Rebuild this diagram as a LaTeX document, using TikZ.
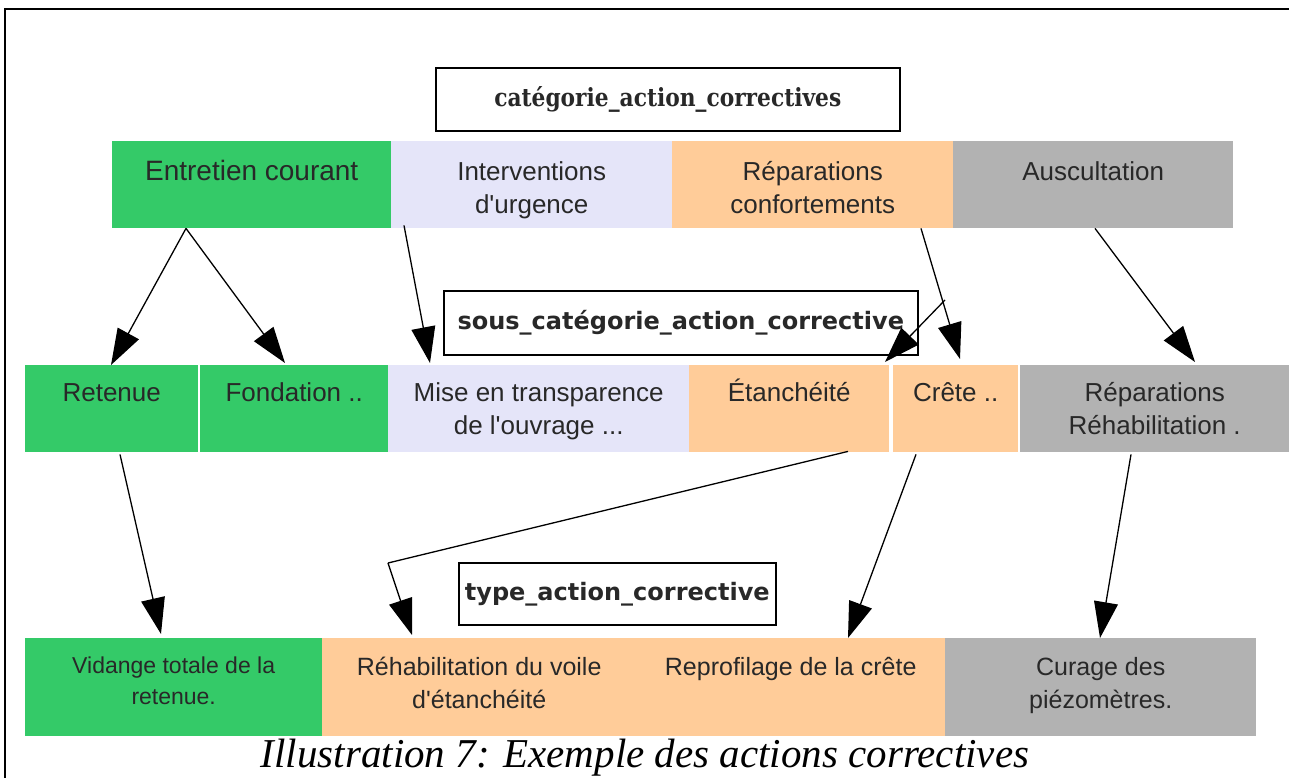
\documentclass[tikz,border=0pt]{standalone}
\usepackage{fontspec}
\setmainfont{Liberation Sans}
\newfontfamily\hdfont{DejaVu Serif}[FakeStretch=0.87]
\newfontfamily\subfont{DejaVu Sans}
\newfontfamily\capfont{Liberation Serif}
\usetikzlibrary{arrows.meta}
\definecolor{cgreen}{RGB}{52,202,104}
\definecolor{clav}{RGB}{229,229,249}
\definecolor{cpeach}{RGB}{255,204,153}
\definecolor{cgrey}{RGB}{178,178,178}
\definecolor{ctext}{RGB}{40,40,40}
\newcommand\myfirst{\rule{0pt}{30pt}}
\newcommand\apos{\textquotesingle}
\tikzset{
  cell/.style={draw=none, fill=#1, inner sep=0pt, anchor=north west},
  hdr/.style={draw=black, line width=1.6pt, fill=white, inner sep=0pt, anchor=north west},
  txt/.style={anchor=north, inner sep=0pt, align=center, text=ctext, font=\fontsize{26}{33}\selectfont},
  arr/.style={draw=black, line width=1.3pt, -{Triangle[length=36pt,width=24pt]}},
}
\begin{document}
\begin{tikzpicture}[x=1pt,y=-1pt]
\useasboundingbox (0,0) rectangle (1289,778);
% frame
\draw[line width=1.5pt] (5,778) -- (5,9) -- (1289,9);
% header boxes
\node[hdr, minimum width=464pt, minimum height=63pt] (hcat) at (435,67) {};
\node[font=\hdfont\bfseries\fontsize{25}{30}\selectfont, text=ctext] at (hcat.center) {catégorie\_action\_correctives};
\node[hdr, minimum width=474pt, minimum height=64pt] (hsous) at (443,290) {};
\node[font=\subfont\bfseries\fontsize{24}{28}\selectfont, text=ctext] at (hsous.center) {sous\_catégorie\_action\_corrective};
\node[hdr, minimum width=317pt, minimum height=62pt] (htype) at (458,562) {};
\node[font=\subfont\bfseries\fontsize{24}{28}\selectfont, text=ctext] at (htype.center) {type\_action\_corrective};
% row 1
\node[cell=cgreen, minimum width=279pt, minimum height=87pt] (ec) at (112,141) {};
\node[cell=clav,   minimum width=281pt, minimum height=87pt] (iu) at (391,141) {};
\node[cell=cpeach, minimum width=281pt, minimum height=87pt] (rc) at (672,141) {};
\node[cell=cgrey,  minimum width=280pt, minimum height=87pt] (au) at (953,141) {};
\node[txt, font=\fontsize{28}{34}\selectfont] at ([yshift=-9pt]ec.north) {\myfirst Entretien courant};
\node[txt] at ([yshift=-9pt]iu.north) {\myfirst Interventions\\d\apos urgence};
\node[txt] at ([yshift=-9pt]rc.north) {\myfirst Réparations\\confortements};
\node[txt] at ([yshift=-9pt]au.north) {\myfirst Auscultation};
% row 2
\node[cell=cgreen, minimum width=173pt, minimum height=87pt] (re) at (25,365) {};
\node[cell=cgreen, minimum width=188pt, minimum height=87pt] (fo) at (200,365) {};
\node[cell=clav,   minimum width=301pt, minimum height=87pt] (mt) at (388,365) {};
\node[cell=cpeach, minimum width=200pt, minimum height=87pt] (et) at (689,365) {};
\node[cell=cpeach, minimum width=125pt, minimum height=87pt] (cr) at (893,365) {};
\node[cell=cgrey,  minimum width=269pt, minimum height=87pt] (rr) at (1020,365) {};
\node[txt] at ([yshift=-6pt]re.north) {\myfirst Retenue};
\node[txt] at ([yshift=-6pt]fo.north) {\myfirst Fondation ..};
\node[txt] at ([yshift=-6pt]mt.north) {\myfirst Mise en transparence\\de l\apos ouvrage ...};
\node[txt] at ([yshift=-6pt]et.north) {\myfirst Étanchéité};
\node[txt] at ([yshift=-6pt]cr.north) {\myfirst Crête ..};
\node[txt] at ([yshift=-6pt]rr.north) {\myfirst Réparations\\Réhabilitation .};
% row 3
\node[cell=cgreen, minimum width=297pt, minimum height=98pt] (vt) at (25,638) {};
\node[cell=cpeach, minimum width=314pt, minimum height=98pt] (rv) at (322,638) {};
\node[cell=cpeach, minimum width=309pt, minimum height=98pt] (rp) at (636,638) {};
\node[cell=cgrey,  minimum width=311pt, minimum height=98pt] (cp) at (945,638) {};
\node[txt, font=\fontsize{23}{31}\selectfont] at ([yshift=-5pt]vt.north) {\myfirst Vidange totale de la\\retenue.};
\node[txt, font=\fontsize{25}{33}\selectfont] at ([yshift=-7pt]rv.north) {\myfirst Réhabilitation du voile\\d\apos étanchéité};
\node[txt, font=\fontsize{25}{33}\selectfont] at ([yshift=-7pt]rp.north) {\myfirst Reprofilage de la crête};
\node[txt, font=\fontsize{25}{33}\selectfont] at ([yshift=-7pt]cp.north) {\myfirst Curage des\\piézomètres.};
% caption
\node[font=\capfont\itshape\fontsize{41}{45}\selectfont, anchor=base] (cap) at (645,767) {Illustration 7: Exemple des actions correctives};
% arrows
\coordinate (s5) at (945,300);
\coordinate (k8) at (388,563);
\draw[arr] ([xshift=74pt]ec.south west) -- ([xshift=86pt]re.north west);
\draw[arr] ([xshift=74pt]ec.south west) -- ([xshift=85pt,yshift=2pt]fo.north west);
\draw[arr] ([xshift=13pt,yshift=3pt]iu.south west) -- ([xshift=42pt,yshift=2pt]mt.north west);
\draw[arr] ([xshift=249pt]rc.south west) -- ([xshift=67pt,yshift=6pt]cr.north west);
\draw[arr] (s5) -- ([xshift=196pt,yshift=3pt]et.north west);
\draw[arr] ([xshift=142pt]au.south west) -- ([xshift=175pt,yshift=3pt]rr.north west);
\draw[arr] ([xshift=95pt,yshift=-2pt]re.south west) -- ([xshift=136pt,yshift=4pt]vt.north west);
\draw[arr, -] ([xshift=159pt,yshift=1pt]et.south west) -- (k8);
\draw[arr] (k8) -- ([xshift=90pt,yshift=3pt]rv.north west);
\draw[arr] ([xshift=23pt,yshift=-2pt]cr.south west) -- ([xshift=212pt]rp.north west);
\draw[arr] ([xshift=111pt,yshift=-2pt]rr.south west) -- ([xshift=155pt]cp.north west);
\end{tikzpicture}
\end{document}
